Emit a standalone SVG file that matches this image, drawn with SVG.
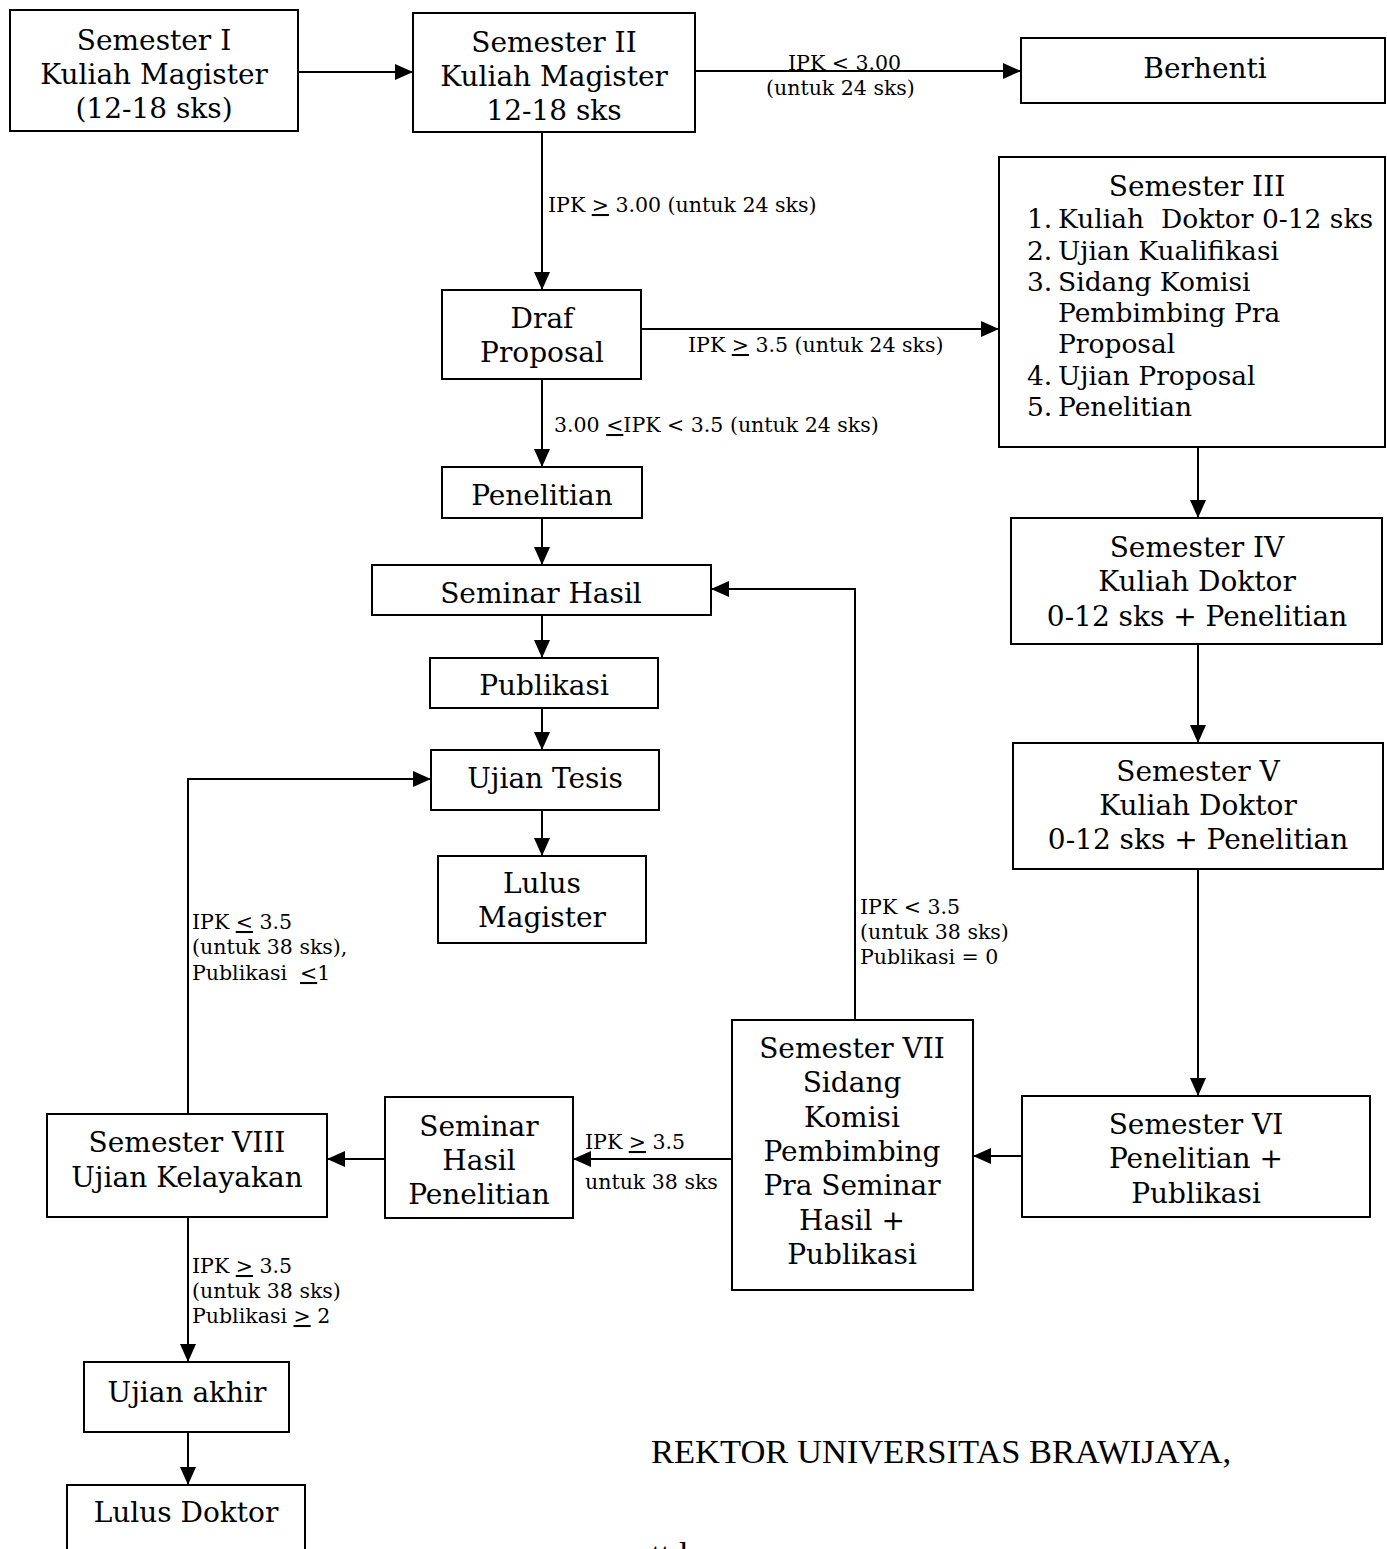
<svg xmlns="http://www.w3.org/2000/svg" width="1387" height="1549" viewBox="0 0 1387 1549">
<style>
.bg{fill:#ffffff}
.box{fill:#ffffff;stroke:#000;stroke-width:2}
.t{font-family:"DejaVu Serif","Liberation Serif",serif;font-size:28px;fill:#000;text-anchor:middle}
.tl{font-family:"DejaVu Serif","Liberation Serif",serif;font-size:26.5px;fill:#000;white-space:pre}
.lb{font-family:"DejaVu Serif","Liberation Serif",serif;font-size:20.5px;fill:#000;white-space:pre}
.rk{font-family:"Liberation Serif",serif;font-size:34.5px;fill:#000}
.c{fill:none;stroke:#000;stroke-width:2}
.u{text-decoration:underline}
</style>
<defs>
<marker id="ah" markerUnits="userSpaceOnUse" markerWidth="18" markerHeight="16" refX="17" refY="8" orient="auto">
<path d="M0,0 L18,8 L0,16 Z" fill="#000"/>
</marker>
</defs>
<rect class="bg" x="0" y="0" width="1387" height="1549"/>

<g id="connectors">
<line class="c" x1="298" y1="72" x2="412" y2="72" marker-end="url(#ah)"/>
<line class="c" x1="695" y1="71" x2="1020" y2="71" marker-end="url(#ah)"/>
<line class="c" x1="542" y1="132" x2="542" y2="289" marker-end="url(#ah)"/>
<line class="c" x1="641" y1="329" x2="998" y2="329" marker-end="url(#ah)"/>
<line class="c" x1="542" y1="379" x2="542" y2="466" marker-end="url(#ah)"/>
<line class="c" x1="542" y1="518" x2="542" y2="564" marker-end="url(#ah)"/>
<line class="c" x1="542" y1="615" x2="542" y2="657" marker-end="url(#ah)"/>
<line class="c" x1="542" y1="708" x2="542" y2="749" marker-end="url(#ah)"/>
<line class="c" x1="542" y1="810" x2="542" y2="855" marker-end="url(#ah)"/>
<line class="c" x1="1198" y1="447" x2="1198" y2="517" marker-end="url(#ah)"/>
<line class="c" x1="1198" y1="644" x2="1198" y2="742" marker-end="url(#ah)"/>
<line class="c" x1="1198" y1="869" x2="1198" y2="1095" marker-end="url(#ah)"/>
<line class="c" x1="1022" y1="1156" x2="974" y2="1156" marker-end="url(#ah)"/>
<polyline class="c" points="855,1020 855,589 712,589" marker-end="url(#ah)"/>
<line class="c" x1="732" y1="1159" x2="574" y2="1159" marker-end="url(#ah)"/>
<line class="c" x1="385" y1="1159" x2="328" y2="1159" marker-end="url(#ah)"/>
<polyline class="c" points="188,1113 188,779 430,779" marker-end="url(#ah)"/>
<line class="c" x1="188" y1="1217" x2="188" y2="1361" marker-end="url(#ah)"/>
<line class="c" x1="188" y1="1432" x2="188" y2="1484" marker-end="url(#ah)"/>
</g>

<g id="labels">
<text class="lb" x="788" y="70">IPK &lt; 3.00</text>
<text class="lb" x="766" y="95">(untuk 24 sks)</text>
<text class="lb" x="548" y="212">IPK <tspan class="u">&gt;</tspan> 3.00 (untuk 24 sks)</text>
<text class="lb" x="688" y="352">IPK <tspan class="u">&gt;</tspan> 3.5 (untuk 24 sks)</text>
<text class="lb" x="554" y="432">3.00 <tspan class="u">&lt;</tspan>IPK &lt; 3.5 (untuk 24 sks)</text>
<text class="lb" x="192" y="929">IPK <tspan class="u">&lt;</tspan> 3.5</text>
<text class="lb" x="192" y="954">(untuk 38 sks),</text>
<text class="lb" x="192" y="980">Publikasi  <tspan class="u">&lt;</tspan>1</text>
<text class="lb" x="860" y="914">IPK &lt; 3.5</text>
<text class="lb" x="860" y="939">(untuk 38 sks)</text>
<text class="lb" x="860" y="964">Publikasi = 0</text>
<text class="lb" x="585" y="1149">IPK <tspan class="u">&gt;</tspan> 3.5</text>
<text class="lb" x="585" y="1189">untuk 38 sks</text>
<text class="lb" x="192" y="1273">IPK <tspan class="u">&gt;</tspan> 3.5</text>
<text class="lb" x="192" y="1298">(untuk 38 sks)</text>
<text class="lb" x="192" y="1323">Publikasi <tspan class="u">&gt;</tspan> 2</text>
</g>

<g id="sem1">
<rect class="box" x="10" y="10" width="288" height="121"/>
<text class="t" x="154" y="50">Semester I</text>
<text class="t" x="154" y="84">Kuliah Magister</text>
<text class="t" x="154" y="118">(12-18 sks)</text>
</g>
<g id="sem2">
<rect class="box" x="413" y="13" width="282" height="119"/>
<text class="t" x="554" y="52">Semester II</text>
<text class="t" x="554" y="86">Kuliah Magister</text>
<text class="t" x="554" y="120">12-18 sks</text>
</g>
<g id="berhenti">
<rect class="box" x="1021" y="38" width="364" height="65"/>
<text class="t" x="1205" y="78">Berhenti</text>
</g>
<g id="sem3">
<rect class="box" x="999" y="157" width="386" height="290"/>
<text class="t" x="1197" y="196">Semester III</text>
<text class="tl" x="1027" y="228">1.</text><text class="tl" x="1058" y="228">Kuliah  Doktor 0-12 sks</text>
<text class="tl" x="1027" y="260">2.</text><text class="tl" x="1058" y="260">Ujian Kualifikasi</text>
<text class="tl" x="1027" y="291">3.</text><text class="tl" x="1058" y="291">Sidang Komisi</text>
<text class="tl" x="1058" y="322">Pembimbing Pra</text>
<text class="tl" x="1058" y="353">Proposal</text>
<text class="tl" x="1027" y="385">4.</text><text class="tl" x="1058" y="385">Ujian Proposal</text>
<text class="tl" x="1027" y="416">5.</text><text class="tl" x="1058" y="416">Penelitian</text>
</g>
<g id="draf">
<rect class="box" x="442" y="290" width="199" height="89"/>
<text class="t" x="542" y="328">Draf</text>
<text class="t" x="542" y="362">Proposal</text>
</g>
<g id="penelitian">
<rect class="box" x="442" y="467" width="200" height="51"/>
<text class="t" x="542" y="505">Penelitian</text>
</g>
<g id="seminar-hasil">
<rect class="box" x="372" y="565" width="339" height="50"/>
<text class="t" x="541" y="603">Seminar Hasil</text>
</g>
<g id="publikasi">
<rect class="box" x="430" y="658" width="228" height="50"/>
<text class="t" x="544" y="695">Publikasi</text>
</g>
<g id="ujian-tesis">
<rect class="box" x="431" y="750" width="228" height="60"/>
<text class="t" x="545" y="788">Ujian Tesis</text>
</g>
<g id="lulus-magister">
<rect class="box" x="438" y="856" width="208" height="87"/>
<text class="t" x="542" y="893">Lulus</text>
<text class="t" x="542" y="927">Magister</text>
</g>
<g id="sem4">
<rect class="box" x="1011" y="518" width="371" height="126"/>
<text class="t" x="1197" y="557">Semester IV</text>
<text class="t" x="1197" y="591">Kuliah Doktor</text>
<text class="t" x="1197" y="626">0-12 sks + Penelitian</text>
</g>
<g id="sem5">
<rect class="box" x="1013" y="743" width="370" height="126"/>
<text class="t" x="1198" y="781">Semester V</text>
<text class="t" x="1198" y="815">Kuliah Doktor</text>
<text class="t" x="1198" y="849">0-12 sks + Penelitian</text>
</g>
<g id="sem6">
<rect class="box" x="1022" y="1096" width="348" height="121"/>
<text class="t" x="1196" y="1134">Semester VI</text>
<text class="t" x="1196" y="1168">Penelitian +</text>
<text class="t" x="1196" y="1203">Publikasi</text>
</g>
<g id="sem7">
<rect class="box" x="732" y="1020" width="241" height="270"/>
<text class="t" x="852" y="1058">Semester VII</text>
<text class="t" x="852" y="1092">Sidang</text>
<text class="t" x="852" y="1127">Komisi</text>
<text class="t" x="852" y="1161">Pembimbing</text>
<text class="t" x="852" y="1195">Pra Seminar</text>
<text class="t" x="852" y="1230">Hasil +</text>
<text class="t" x="852" y="1264">Publikasi</text>
</g>
<g id="seminar-hasil-penelitian">
<rect class="box" x="385" y="1097" width="188" height="121"/>
<text class="t" x="479" y="1136">Seminar</text>
<text class="t" x="479" y="1170">Hasil</text>
<text class="t" x="479" y="1204">Penelitian</text>
</g>
<g id="sem8">
<rect class="box" x="47" y="1114" width="280" height="103"/>
<text class="t" x="187" y="1152">Semester VIII</text>
<text class="t" x="187" y="1187">Ujian Kelayakan</text>
</g>
<g id="ujian-akhir">
<rect class="box" x="84" y="1362" width="205" height="70"/>
<text class="t" x="187" y="1402">Ujian akhir</text>
</g>
<g id="lulus-doktor">
<rect class="box" x="67" y="1485" width="238" height="80"/>
<text class="t" x="186" y="1522">Lulus Doktor</text>
</g>
<g id="rektor">
<text class="rk" x="651" y="1463">REKTOR UNIVERSITAS BRAWIJAYA,</text>
<text class="rk" x="651" y="1566">ttd</text>
</g>
</svg>
